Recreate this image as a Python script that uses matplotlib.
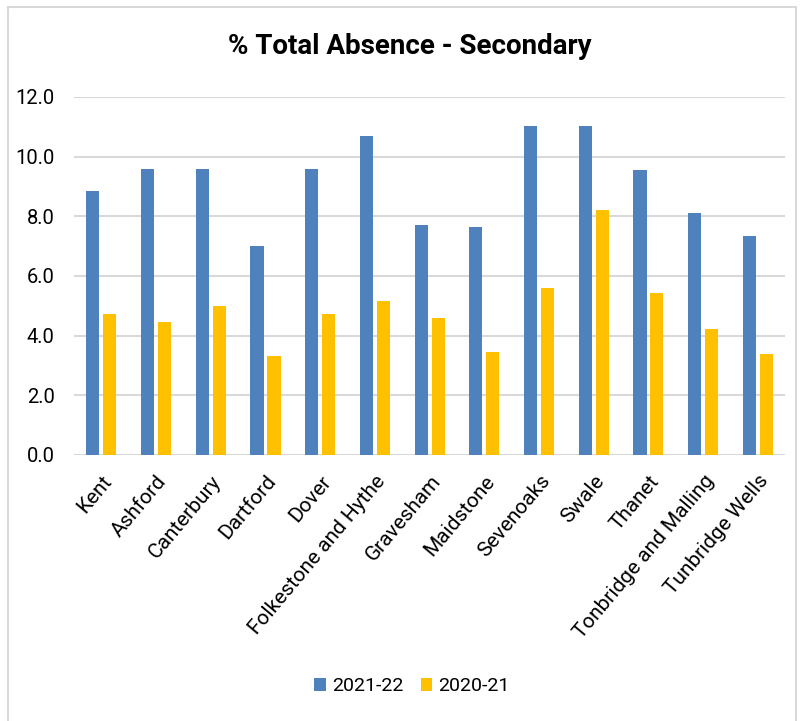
import numpy as np
import matplotlib.pyplot as plt
from matplotlib.patches import Rectangle

districts = ['Kent', 'Ashford', 'Canterbury', 'Dartford', 'Dover',
             'Folkestone and Hythe', 'Gravesham', 'Maidstone', 'Sevenoaks',
             'Swale', 'Thanet', 'Tonbridge and Malling', 'Tunbridge Wells']
absence_2122 = [8.85, 9.6, 9.6, 7.0, 9.6, 10.7, 7.7, 7.63, 11.04, 11.04, 9.54, 8.12, 7.35]
absence_2021 = [4.72, 4.45, 5.0, 3.32, 4.72, 5.15, 4.58, 3.44, 5.58, 8.2, 5.44, 4.23, 3.39]

plt.rcParams['font.family'] = ['Roboto', 'DejaVu Sans']

fig = plt.figure(figsize=(8, 7.21), dpi=100)
fig.patches.append(Rectangle((0.01, -0.01), 0.985, 1.0, transform=fig.transFigure,
                             fill=False, edgecolor='#d9d9d9', linewidth=1.5))

ax = fig.add_axes([0.0925, 0.369, 0.889, 0.4965])
x = np.arange(len(districts))
w = 0.24
ax.bar(x - 0.155, absence_2122, width=w, color='#4f81bd', label='2021-22', zorder=3)
ax.bar(x + 0.155, absence_2021, width=w, color='#ffc000', label='2020-21', zorder=3)

ax.set_xlim(-0.5, len(districts) - 0.5)
ax.set_ylim(0, 12)
ax.set_yticks(np.arange(0, 12.1, 2))
ax.set_yticklabels([f'{v:.1f}' for v in np.arange(0, 12.1, 2)], fontsize=14.5)
ax.grid(axis='y', color='#d9d9d9', linewidth=1.5, zorder=0)
ax.set_xticks(x)
ax.set_xticklabels(districts, rotation=50, ha='right', rotation_mode='anchor', fontsize=15)
ax.tick_params(axis='y', length=0, pad=14)
ax.tick_params(axis='x', length=0, pad=12)
for s in ax.spines.values():
    s.set_visible(False)

fig.text(0.512, 0.935, '% Total Absence - Secondary', ha='center', va='center',
         fontsize=20, fontweight='bold')
fig.legend(loc='center', bbox_to_anchor=(0.515, 0.048), ncol=2, frameon=False,
           fontsize=14, handlelength=0.6, handleheight=0.6, handletextpad=0.3,
           columnspacing=0.9)

fig.savefig('out.png')
